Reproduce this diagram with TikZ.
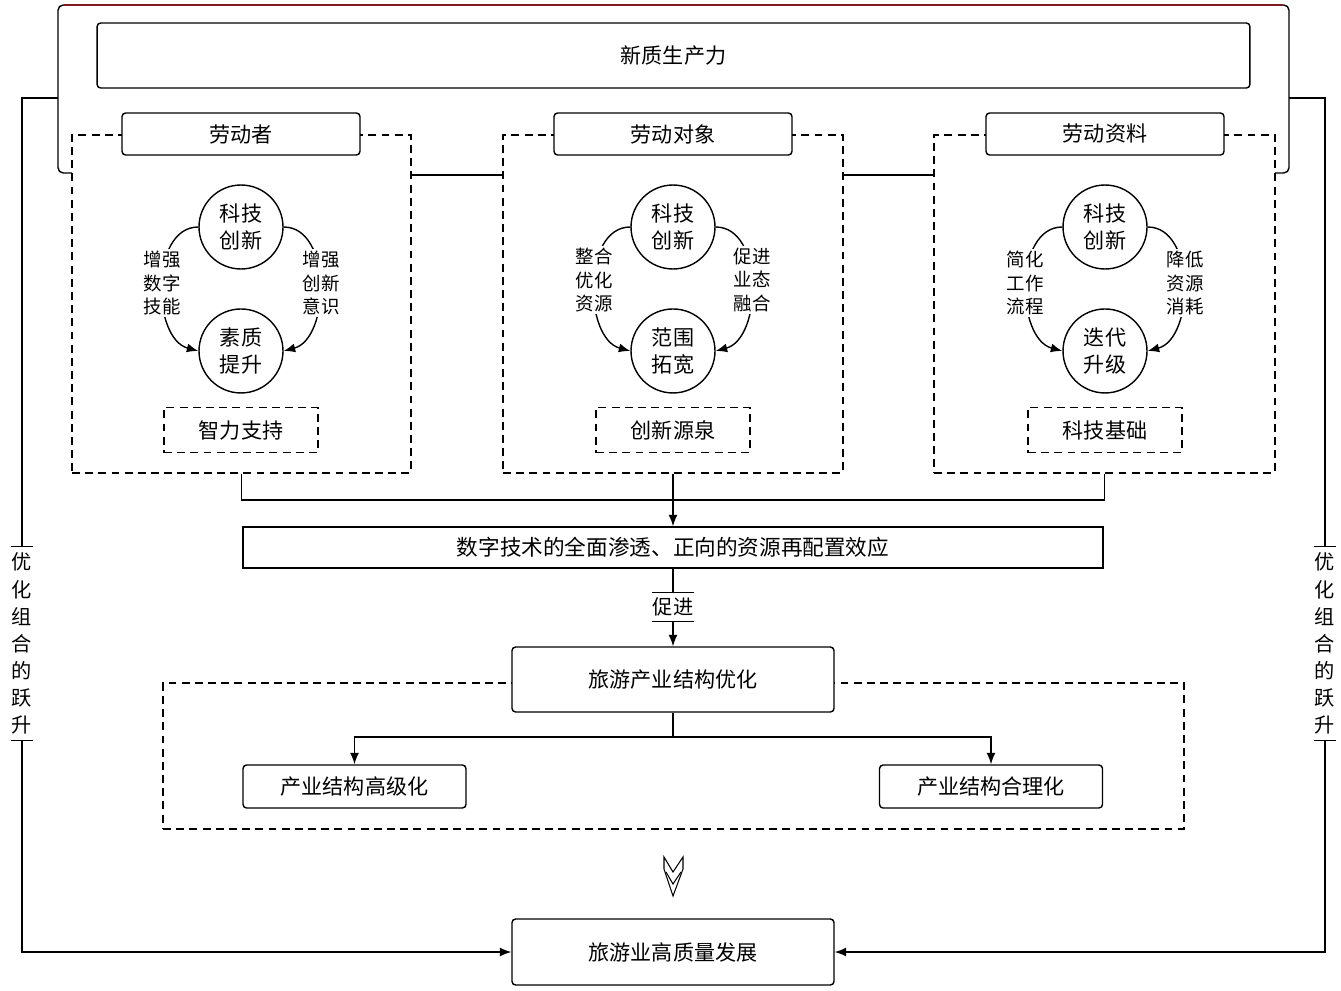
\documentclass[tikz,border=0pt]{standalone}
\usepackage{fontspec}
\setmainfont{Noto Sans CJK SC}
\usetikzlibrary{arrows.meta}
\definecolor{framered}{RGB}{130,25,35}
\begin{document}
\begin{tikzpicture}[x=0.02cm,y=-0.02cm,node distance=2.48cm,line width=0.8pt,
  >={Latex[length=2.3mm,width=1.8mm]}]
\tikzstyle{box}=[draw,rounded corners=2pt,fill=white,inner sep=0pt,font=\fontsize{12}{15}\selectfont]
\tikzstyle{dbox}=[draw,dash pattern=on 4.5pt off 3pt,inner sep=0pt]
\tikzstyle{ring}=[draw,circle,fill=white,minimum size=1.68cm,inner sep=0pt,align=center,font=\fontsize{12}{15.5}\selectfont]
\tikzstyle{side}=[fill=white,align=center,inner sep=1pt,font=\fontsize{10.5}{13.5}\selectfont]
\tikzstyle{tag}=[align=center,inner sep=0pt,minimum width=0.4cm,minimum height=3.86cm,font=\fontsize{11.5}{15.4}\selectfont]
\useasboundingbox (0,0) rectangle (1341,990);
% outer frame
\draw[rounded corners=3pt] (72,173) -- (58,173) -- (58,5) -- (1289,5) -- (1289,173) -- (1275,173);
\draw[framered] (64,5) -- (1283,5);
\node [box,minimum width=23.06cm,minimum height=1.3cm] (np) at (673.5,55.5) {新质生产力};
% three dashed panels
\node [dbox,minimum width=6.78cm,minimum height=6.76cm] (dl) at (241.5,304) {};
\node [dbox,minimum width=6.8cm,minimum height=6.76cm] (dm) at (673,304) {};
\node [dbox,minimum width=6.82cm,minimum height=6.76cm] (dr) at (1104.5,304) {};
\draw (dl.east |- 0,175) -- (dm.west |- 0,175);
\draw (dm.east |- 0,175) -- (dr.west |- 0,175);
\node [box,minimum width=4.76cm,minimum height=0.84cm] (hl) at (241,134) {劳动者};
\node [box,minimum width=4.76cm,minimum height=0.84cm] (hm) at (673,134) {劳动对象};
\node [box,minimum width=4.76cm,minimum height=0.84cm] (hr) at (1105,134) {劳动资料};
% labourers
\node [ring] (l1) at (241,227) {科技\\创新};
\node [ring,below of=l1] (l2) {素质\\提升};
\draw[->] (l1.west) to[out=180,in=165] (l2.west);
\draw[->] (l1.east) to[out=0,in=15] (l2.east);
\node [side] at (162,283) {增强\\数字\\技能};
\node [side] at (321,283) {增强\\创新\\意识};
\node [dbox,minimum width=3.08cm,minimum height=0.9cm,font=\fontsize{12}{15}\selectfont] (sl) at (241,430) {智力支持};
% objects
\node [ring] (m1) at (673,227) {科技\\创新};
\node [ring,below of=m1] (m2) {范围\\拓宽};
\draw[->] (m1.west) to[out=180,in=165] (m2.west);
\draw[->] (m1.east) to[out=0,in=15] (m2.east);
\node [side] at (594,280) {整合\\优化\\资源};
\node [side] at (752,280) {促进\\业态\\融合};
\node [dbox,minimum width=3.08cm,minimum height=0.9cm,font=\fontsize{12}{15}\selectfont] (sm) at (673,430) {创新源泉};
% means
\node [ring] (r1) at (1105,227) {科技\\创新};
\node [ring,below of=r1] (r2) {迭代\\升级};
\draw[->] (r1.west) to[out=180,in=165] (r2.west);
\draw[->] (r1.east) to[out=0,in=15] (r2.east);
\node [side] at (1025,283) {简化\\工作\\流程};
\node [side] at (1185,283) {降低\\资源\\消耗};
\node [dbox,minimum width=3.08cm,minimum height=0.9cm,font=\fontsize{12}{15}\selectfont] (sr) at (1105,430) {科技基础};
% middle chain
\node [draw,inner sep=0pt,minimum width=17.2cm,minimum height=0.82cm,font=\fontsize{12.3}{15}\selectfont] (dt) at (673,547.5) {数字技术的全面渗透、正向的资源再配置效应};
\coordinate (jn) at (673,500);
\draw (dl.south) |- (jn) -| (dr.south);
\draw[->] (dm.south) -- (dt.north);
\node [inner sep=0pt,minimum width=0.82cm,minimum height=0.56cm,font=\fontsize{11.5}{14}\selectfont] (cj) at (673,607) {促进};
\draw (cj.north west) -- (cj.north east) (cj.south west) -- (cj.south east);
\node [draw,dash pattern=on 4.5pt off 3pt,inner sep=0pt,minimum width=20.42cm,minimum height=2.92cm] (ds) at (673.5,756) {};
\node [box,minimum width=6.44cm,minimum height=1.3cm] (opt) at (673,679.5) {旅游产业结构优化};
\draw (dt.south) -- (cj.north);
\draw[->] (cj.south) -- (opt.north);
\node [box,minimum width=4.46cm,minimum height=0.86cm] (hi) at (354.5,786.5) {产业结构高级化};
\node [box,minimum width=4.46cm,minimum height=0.86cm] (ra) at (991,786.5) {产业结构合理化};
\coordinate (sp) at (673,737);
\draw (opt.south) -- (sp);
\draw[->] (sp) -| (hi.north);
\draw[->] (sp) -| (ra.north);
% down chevron
\draw[line width=0.6pt,fill=white] (664,857) -- (673,872) -- (683,857) -- (683,869) -- (673,896) -- (664,869) -- cycle;
\draw[line width=0.6pt] (666,872) -- (673,884) -- (681,872);
\node [box,minimum width=6.44cm,minimum height=1.32cm] (hq) at (673,952) {旅游业高质量发展};
% side feedback
\coordinate (fl) at (58,98);
\coordinate (fr) at (1289,98);
\node [tag] (tl) at (22,643.5) {优\\化\\组\\合\\的\\跃\\升};
\node [tag] (tr) at (1325,643.5) {优\\化\\组\\合\\的\\跃\\升};
\draw (tl.north west) -- (tl.north east) (tl.south west) -- (tl.south east);
\draw (tr.north west) -- (tr.north east) (tr.south west) -- (tr.south east);
\draw (fl) -| (tl.north);
\draw (fr) -| (tr.north);
\draw[->] (tl.south) |- (hq.west);
\draw[->] (tr.south) |- (hq.east);
\end{tikzpicture}
\end{document}
